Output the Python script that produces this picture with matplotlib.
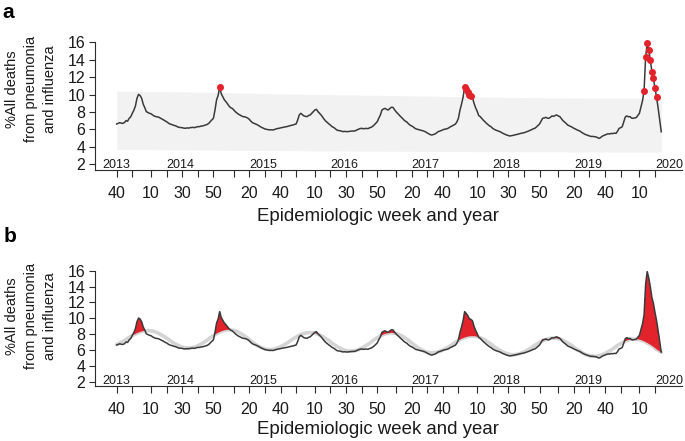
import numpy as np
import matplotlib
matplotlib.use("Agg")
import matplotlib.pyplot as plt

plt.rcParams['font.family'] = ['Liberation Sans', 'DejaVu Sans']

# ---------------- data ----------------
# weekly % of all deaths due to pneumonia & influenza, from 2013 week 40
weeks_in_year = {2013: 52, 2014: 53, 2015: 52, 2016: 52, 2017: 52, 2018: 52, 2019: 52, 2020: 52}
first_year, first_week = 2013, 40

pi_pct = [
    6.63, 6.70, 6.78, 6.72, 6.70, 6.80, 7.01, 6.95, 7.28, 7.45, 7.85, 8.20, 8.69,
    9.57, 10.03, 9.90, 9.57, 8.90, 8.50, 8.04, 7.95, 7.85, 7.80, 7.66, 7.55, 7.47,
    7.45, 7.40, 7.30, 7.20, 7.10, 6.98, 6.89, 6.75, 6.63, 6.58, 6.51, 6.45, 6.40,
    6.30, 6.24, 6.22, 6.20, 6.15, 6.13, 6.18, 6.15, 6.20, 6.22, 6.24, 6.20, 6.28, 6.32,
    6.32, 6.38, 6.40, 6.45, 6.51, 6.58, 6.70, 6.90, 7.10, 7.28, 8.23, 9.38, 9.90, 10.84,
    10.10, 9.76, 9.40, 9.19, 8.95, 8.69, 8.50, 8.42, 8.25, 8.04, 7.90, 7.75, 7.66, 7.55,
    7.47, 7.45, 7.39, 7.30, 7.16, 6.95, 6.78, 6.70, 6.63, 6.55, 6.44, 6.32, 6.22, 6.15, 6.05,
    6.01, 5.98, 5.95, 5.96, 5.94, 5.98, 6.05, 6.10, 6.13, 6.18, 6.22, 6.25, 6.30, 6.32, 6.38,
    6.42, 6.48, 6.51, 6.58, 6.63,
    7.08, 7.66, 7.85, 7.70, 7.55, 7.50, 7.47, 7.60, 7.66, 7.85, 8.04, 8.23, 8.31, 8.04, 7.85,
    7.66, 7.40, 7.16,
    6.95, 6.80, 6.63, 6.50, 6.32, 6.24, 6.10, 5.94, 5.88, 5.86, 5.80, 5.75, 5.78, 5.75, 5.75,
    5.78, 5.80, 5.82, 5.82,
    5.85, 5.95, 6.02, 6.10, 6.13, 6.08, 6.10, 6.12, 6.09, 6.18, 6.24, 6.35, 6.51, 6.70, 6.89,
    7.30, 7.66, 8.23,
    8.35, 8.42, 8.30, 8.23, 8.40, 8.54, 8.54, 8.30, 8.04, 7.85, 7.65, 7.47, 7.30, 7.10, 6.95,
    6.85, 6.65, 6.50,
    6.40, 6.30, 6.15, 6.05, 6.01, 5.95, 5.90, 5.86, 5.80, 5.72, 5.60, 5.50, 5.40, 5.36, 5.42,
    5.48, 5.60, 5.75, 5.80,
    5.88, 5.95, 6.02, 6.05, 6.10, 6.20, 6.32, 6.40, 6.51, 6.60, 6.85, 7.28, 8.20, 8.90, 9.70,
    10.84, 10.61, 10.34, 9.95, 9.85, 9.69, 9.00, 8.50, 8.10, 7.60, 7.47,
    7.25, 7.05, 6.89, 6.70, 6.55, 6.40, 6.30, 6.12, 6.01, 5.92, 5.85, 5.78, 5.72, 5.60, 5.52,
    5.45, 5.35, 5.30, 5.25, 5.28, 5.32,
    5.36, 5.40, 5.45, 5.50, 5.55, 5.58, 5.62, 5.68, 5.75, 5.82, 5.90, 5.98, 6.08, 6.13, 6.28,
    6.45, 6.63, 6.95,
    7.28, 7.32, 7.39, 7.30, 7.28, 7.40, 7.55, 7.50, 7.60, 7.66, 7.55, 7.47, 7.25, 7.01, 6.85,
    6.70, 6.51, 6.42,
    6.32, 6.25, 6.13, 6.05, 5.95, 5.88, 5.80, 5.66, 5.55, 5.45, 5.38, 5.30, 5.25, 5.20, 5.20,
    5.17, 5.15, 5.08, 4.98, 5.05,
    5.20, 5.30, 5.36, 5.45, 5.50, 5.48, 5.55, 5.52, 5.58, 5.55, 5.80, 6.13, 6.20, 6.32, 6.90,
    7.45, 7.55, 7.45, 7.47, 7.30, 7.28, 7.32, 7.36,
    7.60, 7.85, 8.60, 9.30, 10.45, 14.35, 15.89, 15.10, 13.97, 12.63, 11.87, 10.72, 9.70,
    8.45, 7.10, 5.74,
]

# seasonal baseline (panel b, grey curve)
baseline = [
    6.70, 6.78, 6.88, 6.98, 7.09, 7.20, 7.31, 7.45, 7.59, 7.70, 7.81, 7.92, 8.02, 8.12, 8.20,
    8.27, 8.34, 8.39, 8.42, 8.44, 8.45,
    8.44, 8.42, 8.38, 8.32, 8.26, 8.18, 8.08, 7.98, 7.87, 7.75, 7.63, 7.50, 7.35, 7.20, 7.07,
    6.95, 6.83, 6.72, 6.62, 6.53, 6.44, 6.38, 6.32, 6.28, 6.26, 6.25,
    6.26, 6.28, 6.33, 6.38, 6.45, 6.54, 6.63, 6.74, 6.86, 6.98, 7.11, 7.24, 7.40, 7.56, 7.69,
    7.82, 7.94, 8.06, 8.17, 8.26, 8.35, 8.42, 8.48, 8.52, 8.54, 8.55,
    8.54, 8.51, 8.47, 8.41, 8.33, 8.24, 8.13, 8.02, 7.89, 7.76, 7.62, 7.47, 7.30, 7.13, 6.98,
    6.84, 6.71, 6.58, 6.47, 6.36, 6.27, 6.19, 6.13, 6.09, 6.06, 6.05,
    6.06, 6.08, 6.12, 6.17, 6.24, 6.32, 6.41, 6.51, 6.62, 6.73, 6.85, 6.98, 7.13, 7.27, 7.40,
    7.52, 7.63, 7.74, 7.84, 7.93, 8.01, 8.08, 8.13, 8.17, 8.19, 8.20,
    8.19, 8.17, 8.12, 8.07, 7.99, 7.91, 7.81, 7.70, 7.58, 7.45, 7.32, 7.19, 7.03, 6.86, 6.73,
    6.60, 6.47, 6.35, 6.24, 6.14, 6.06, 5.98, 5.93, 5.88, 5.86, 5.85,
    5.86, 5.88, 5.93, 5.98, 6.05, 6.14, 6.23, 6.34, 6.46, 6.58, 6.71, 6.84, 7.00, 7.16, 7.29,
    7.42, 7.54, 7.66, 7.77, 7.86, 7.95, 8.02, 8.08, 8.12, 8.14, 8.15,
    8.14, 8.11, 8.07, 8.01, 7.93, 7.84, 7.73, 7.62, 7.49, 7.36, 7.22, 7.07, 6.90, 6.73, 6.58,
    6.44, 6.31, 6.18, 6.07, 5.96, 5.87, 5.79, 5.73, 5.69, 5.66, 5.65,
    5.66, 5.68, 5.72, 5.77, 5.84, 5.91, 6.00, 6.10, 6.20, 6.32, 6.43, 6.55, 6.70, 6.85, 6.97,
    7.08, 7.20, 7.30, 7.40, 7.49, 7.57, 7.63, 7.68, 7.72, 7.74, 7.75,
    7.74, 7.72, 7.67, 7.62, 7.54, 7.46, 7.36, 7.25, 7.13, 7.00, 6.87, 6.74, 6.58, 6.41, 6.28,
    6.15, 6.02, 5.90, 5.79, 5.69, 5.61, 5.53, 5.48, 5.43, 5.41, 5.40,
    5.41, 5.43, 5.47, 5.52, 5.59, 5.66, 5.75, 5.85, 5.96, 6.07, 6.18, 6.31, 6.45, 6.60, 6.72,
    6.83, 6.95, 7.05, 7.15, 7.24, 7.32, 7.38, 7.43, 7.47, 7.49, 7.50,
    7.49, 7.47, 7.43, 7.37, 7.30, 7.21, 7.12, 7.01, 6.89, 6.77, 6.64, 6.51, 6.35, 6.19, 6.06,
    5.93, 5.81, 5.69, 5.58, 5.49, 5.40, 5.33, 5.28, 5.23, 5.21, 5.20,
    5.21, 5.23, 5.27, 5.33, 5.39, 5.47, 5.56, 5.67, 5.78, 5.89, 6.01, 6.14, 6.29, 6.44, 6.57,
    6.69, 6.80, 6.91, 7.02, 7.11, 7.19, 7.26, 7.31, 7.35, 7.37, 7.38,
    7.37, 7.35, 7.31, 7.25, 7.18, 7.09, 7.00, 6.89, 6.78, 6.66, 6.53, 6.40, 6.24, 6.08, 5.95,
    5.82, 5.70,
]

# expected-range band (panel a), at selected week positions
band_week = [0, 25, 50, 75, 100, 125, 150, 175, 200, 225, 250, 275, 300, 325, 349]
band_upper = [10.40, 10.35, 10.30, 10.20, 10.10, 10.02, 9.95, 9.90, 9.82, 9.75, 9.68, 9.63,
              9.60, 9.58, 9.57]
band_lower = [3.70, 3.68, 3.65, 3.60, 3.58, 3.55, 3.52, 3.50, 3.48, 3.46, 3.45, 3.43,
              3.42, 3.40, 3.40]

y_ticks = [2, 4, 6, 8, 10, 12, 14, 16]
tick_weeks = [10, 20, 30, 40, 50]
year_labels = ['2013', '2014', '2015', '2016', '2017', '2018', '2019', '2020']
ylabel_text = "%All deaths\nfrom pneumonia\nand influenza"
xlabel_text = "Epidemiologic week and year"

# ---------------- helpers ----------------
pi = np.array(pi_pct)
base = np.array(baseline)
assert len(pi) == len(base)
x = np.arange(len(pi))

year_start = {}
off = -(first_week - 1)
for yr in sorted(weeks_in_year):
    year_start[yr] = off
    off += weeks_in_year[yr]

def widx(yr, wk):
    return year_start[yr] + wk - 1

tick_pos, tick_lab = [], []
last_idx = len(pi) - 1
for yr in sorted(weeks_in_year):
    for wk in tick_weeks:
        p = widx(yr, wk)
        if 0 <= p <= last_idx + 2:
            tick_pos.append(p)
for i, p in enumerate(tick_pos):
    for yr in sorted(weeks_in_year):
        wk = p - year_start[yr] + 1
        if 1 <= wk <= weeks_in_year[yr]:
            tick_lab.append(str(wk) if i % 2 == 0 else '')
            break

W, H = 685, 441
fig = plt.figure(figsize=(W / 100, H / 100), dpi=100)

AX_COL = '#2b2b2b'
LINE_COL = '#3a3a3a'
RED = '#e3232b'

def make_axes(top_px, bottom_px, y2_px, y16_px):
    ax = fig.add_axes([95 / W, 1 - bottom_px / H, (682 - 95) / W, (bottom_px - top_px) / H])
    per = (y2_px - y16_px) / 14.0
    ylo = 2 - (bottom_px - y2_px) / per
    ax.set_ylim(ylo, 16 + (y16_px - top_px) / per)
    ax.set_xlim(-13.9, 362.3)
    for s in ['top', 'right']:
        ax.spines[s].set_visible(False)
    for s in ['left', 'bottom']:
        ax.spines[s].set_linewidth(0.8)
        ax.spines[s].set_color(AX_COL)
    ax.set_yticks(y_ticks)
    ax.set_yticklabels([str(v) for v in y_ticks])
    ax.tick_params(axis='y', length=4.5, width=0.8, pad=2.5, labelsize=11.5,
                   color=AX_COL, labelcolor='#1a1a1a')
    ax.set_xticks(tick_pos)
    ax.set_xticklabels(tick_lab)
    ax.tick_params(axis='x', length=5.0, width=0.8, pad=6.6, labelsize=11.5,
                   color=AX_COL, labelcolor='#1a1a1a')
    for i, yl in enumerate(year_labels):
        yr = int(yl)
        if i == 0:
            xp, ha = 0, 'center'
        else:
            xp, ha = widx(yr, 20), 'left'
        ax.annotate(yl, xy=(xp, 0), xycoords=('data', 'axes fraction'),
                    xytext=(0, 1.2), textcoords='offset points',
                    ha=ha, va='baseline', fontsize=9, color='#1a1a1a',
                    annotation_clip=False)
    return ax

# ---------------- panel a ----------------
axa = make_axes(42.3, 170.0, 164.3, 42.3)
axa.fill_between(band_week, band_lower, band_upper, color='#f2f2f2', lw=0, zorder=1)
axa.plot(x, pi, color=LINE_COL, lw=1.1, zorder=3)
thr = np.interp(x, band_week, band_upper)
flag = pi > thr
axa.plot(x[flag], pi[flag], ls='none', marker='o', ms=4.0, mfc=RED, mec=RED,
         zorder=4, clip_on=False)

# ---------------- panel b ----------------
axb = make_axes(270.7, 386.0, 381.7, 270.7)
axb.plot(x, base, color='#d4d4d4', lw=2.6, zorder=2, solid_capstyle='round')
axb.fill_between(x, base, pi, where=pi > base, interpolate=True, color=RED, lw=0,
                 zorder=3)
axb.plot(x, pi, color=LINE_COL, lw=1.1, zorder=4)

# ---------------- texts ----------------
for ycen, xl_y in [(89, 216.5), (316, 429)]:
    fig.text(31 / W, 1 - ycen / H, ylabel_text, rotation=90, ha='center', va='center',
             multialignment='center', fontsize=10.5, linespacing=1.5, color='#1a1a1a')
    fig.text(378 / W, 1 - xl_y / H, xlabel_text, ha='center', va='center',
             fontsize=13.4, color='#1a1a1a')
fig.text(2 / W, 1 - 18 / H, 'a', fontsize=15, fontweight='bold', va='baseline', ha='left')
fig.text(4 / W, 1 - 241.5 / H, 'b', fontsize=15, fontweight='bold', va='baseline', ha='left')

fig.savefig('out.png', dpi=100)
